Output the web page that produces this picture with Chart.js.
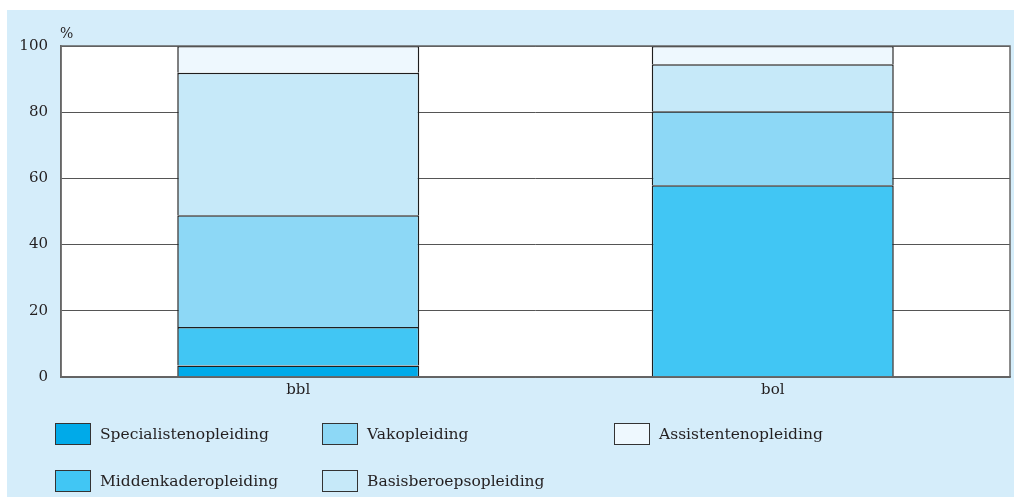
<!DOCTYPE html>
<html>
<head>
<meta charset="utf-8">
<script src="https://cdn.jsdelivr.net/npm/chart.js@4/dist/chart.umd.min.js"></script>
<style>
  html, body { margin: 0; padding: 0; background: #ffffff; }
  #panel { position: absolute; left: 7px; top: 10px; width: 1007px; height: 487px; background: #d5edfa; }
  #wrap { position: absolute; left: 0; top: 0; width: 1007px; height: 392px; }
  #legend { position: absolute; left: 0; top: 0; width: 1007px; height: 487px; pointer-events: none; }
  .item { position: absolute; display: flex; align-items: center; font-family: "DejaVu Serif", serif; font-size: 15.5px; color: #231f20; white-space: nowrap; }
  .box { width: 36px; height: 22px; border: 1px solid #333; margin-right: 9px; box-sizing: border-box; }
</style>
</head>
<body>
<div id="panel">
  <div id="wrap"><canvas id="c"></canvas></div>
  <div id="legend"></div>
</div>
<script>
const categories = ["bbl", "bol"];
const seriesNames = ["Specialistenopleiding", "Middenkaderopleiding", "Vakopleiding", "Basisberoepsopleiding", "Assistentenopleiding"];
const specialisten = [3.5, 0];
const middenkader = [11.6, 57.9];
const vak = [33.8, 22.4];
const basisberoeps = [43.0, 14.2];
const assistenten = [8.1, 5.5];
const yTicks = [0, 20, 40, 60, 80, 100];
const colors = ["#00aae9", "#41c6f4", "#8dd8f6", "#c6e9f9", "#eef8fe"];

const seriesValues = [specialisten, middenkader, vak, basisberoeps, assistenten];
const FONT = "DejaVu Serif";

const framePlugin = {
  id: 'frame',
  beforeDraw(chart) {
    const a = chart.chartArea, ctx = chart.ctx;
    ctx.save();
    ctx.fillStyle = '#ffffff';
    ctx.fillRect(a.left, a.top, a.right - a.left, a.bottom - a.top);
    ctx.restore();
  },
  afterDraw(chart) {
    const a = chart.chartArea, ctx = chart.ctx;
    ctx.save();
    ctx.strokeStyle = '#666';
    ctx.lineWidth = 1.5;
    ctx.strokeRect(a.left, a.top, a.right - a.left, a.bottom - a.top);
    ctx.fillStyle = '#231f20';
    ctx.font = '14px "' + FONT + '"';
    ctx.textAlign = 'left';
    ctx.textBaseline = 'bottom';
    ctx.fillText('%', a.left - 1, a.top - 5);
    ctx.restore();
  }
};

new Chart(document.getElementById('c'), {
  type: 'bar',
  data: {
    labels: categories,
    datasets: seriesNames.map((n, i) => ({
      label: n,
      data: seriesValues[i],
      backgroundColor: colors[i],
      borderColor: '#1e1e1e',
      borderWidth: { top: 1.5, left: 1.5, right: 1.5, bottom: 0 },
      borderSkipped: false,
      barPercentage: 0.51,
      categoryPercentage: 1.0
    }))
  },
  options: {
    responsive: true,
    maintainAspectRatio: false,
    animation: false,
    layout: { padding: { top: 36, right: 4, bottom: 0, left: 0 } },
    plugins: { legend: { display: false }, tooltip: { enabled: false } },
    scales: {
      x: {
        stacked: true,
        grid: { display: false, drawTicks: false },
        border: { display: true, color: '#666', width: 1.5 },
        ticks: { color: '#231f20', font: { family: FONT, size: 15 }, padding: 4 },
        afterFit(s) { s.height = 25; }
      },
      y: {
        stacked: true,
        min: 0, max: 100,
        afterBuildTicks(s) { s.ticks = yTicks.map(v => ({ value: v })); },
        grid: { color: '#555', lineWidth: 1, drawTicks: false },
        border: { display: true, color: '#666', width: 1.5 },
        ticks: { color: '#231f20', font: { family: FONT, size: 15 }, padding: 13 },
        afterFit(s) { s.width = 54; }
      }
    }
  },
  plugins: [framePlugin]
});

// HTML legend built from the series arrays
const legendPos = [[48, 412], [48, 459], [315, 412], [315, 459], [607, 412]];
const legend = document.getElementById('legend');
seriesNames.forEach((n, i) => {
  const d = document.createElement('div');
  d.className = 'item';
  d.style.left = legendPos[i][0] + 'px';
  d.style.top = legendPos[i][1] + 'px';
  d.style.height = '24px';
  const b = document.createElement('div');
  b.className = 'box';
  b.style.background = colors[i];
  const t = document.createElement('span');
  t.textContent = n;
  d.appendChild(b); d.appendChild(t);
  legend.appendChild(d);
});
</script>
</body>
</html>
